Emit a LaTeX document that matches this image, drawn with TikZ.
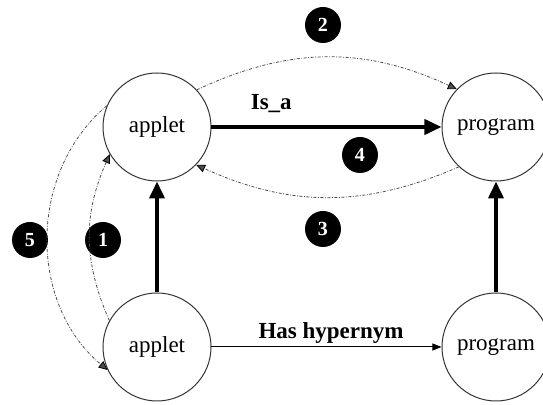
\documentclass[tikz,border=0pt]{standalone}
\usepackage{fontspec}
\setmainfont{Liberation Serif}
\usetikzlibrary{arrows.meta}

\tikzset{
    term/.style={circle,draw=black!80,line width=0.5pt,minimum size=54pt,inner sep=0pt,
                 font=\fontsize{11.5}{13}\selectfont},
    badge/.style={circle,fill=black,minimum size=18pt,inner sep=0pt,text=white,
                  font=\fontsize{10}{12}\selectfont\bfseries},
    rel/.style={line width=1.9pt,-{Triangle[length=8.5pt,width=7.5pt]}},
    hyp/.style={line width=0.5pt,-{Triangle[length=4.5pt,width=3.5pt]}},
    walk/.style={color=black!70,line width=0.4pt,dash pattern=on 1.5pt off 0.8pt on 0.4pt off 0.8pt,
                 -{Triangle[length=4.5pt,width=4pt,color=black]}},
    lbl/.style={inner sep=0pt,font=\fontsize{11.5}{13}\selectfont\bfseries}
}

\begin{document}
\begin{tikzpicture}[x=0.5pt,y=0.5pt]
\useasboundingbox (0,0) rectangle (543,-405);

\begin{scope}[every node/.style={term}]
    \node (at) at (157,-127) {applet};
    \node (pt) at (496,-127) {program};
    \node (ab) at (157,-347) {applet};
    \node (pb) at (496,-347) {program};
\end{scope}

\begin{scope}[every node/.style={badge}]
    \node (b1) at (103,-240) {1};
    \node (b2) at (323,-25) {2};
    \node (b3) at (323,-229) {3};
    \node (b4) at (360,-155) {4};
    \node (b5) at (30,-240) {5};
\end{scope}

\path [rel] (at) edge node[lbl,above=6pt,pos=0.26] (isa) {Is\_a} (pt);
\path [rel] (ab) edge (at);
\path [rel] (pb) edge (pt);
\path [hyp] (ab) edge node[lbl,above=1.5pt,pos=0.52] (hash) {Has hypernym} (pb);

\path [walk] (ab.151) edge [bend left=24] (at.210);
\path [walk] (at.43) edge [bend left=25] (pt.136);
\path [walk] (pt.227) edge [bend left=24] (at.-44);
\path [walk] (at.157) edge [bend right=50] (ab.205);
\end{tikzpicture}
\end{document}
